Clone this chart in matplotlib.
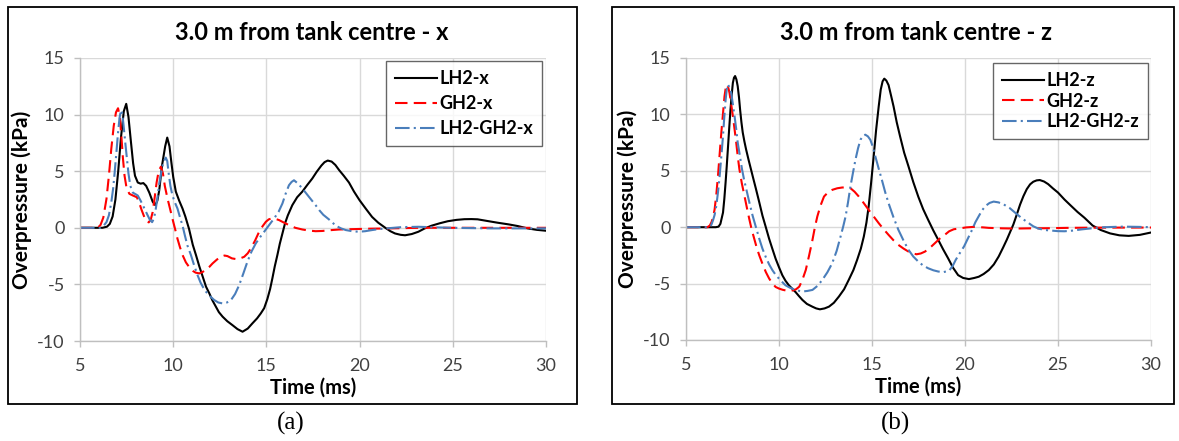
import matplotlib
matplotlib.use("Agg")
import matplotlib.pyplot as plt
from matplotlib.patches import Rectangle

plt.rcParams["axes.unicode_minus"] = False

# ---- data (time in ms, overpressure in kPa) ----
t_lh2_x = [5.0, 6.2, 6.45, 6.6, 6.75, 6.9, 7.05, 7.2, 7.35, 7.48, 7.6, 7.72, 7.85, 7.95, 8.1,
           8.25, 8.4, 8.55, 8.72, 8.9, 9.04, 9.15, 9.25, 9.4, 9.57, 9.68, 9.8, 9.9, 10.0, 10.14,
           10.32, 10.5, 10.65, 10.85, 11.05, 11.22, 11.4, 11.58, 11.76, 11.94, 12.1, 12.29, 12.45,
           12.65, 12.9, 13.18, 13.45, 13.72, 14.0, 14.25, 14.5, 14.7, 14.88, 15.05, 15.2, 15.32,
           15.45, 15.59, 15.72, 15.86, 16.0, 16.15, 16.39, 16.65, 16.93, 17.2, 17.46, 17.7, 17.95,
           18.12, 18.29, 18.5, 18.7, 18.9, 19.15, 19.43, 19.7, 20.0, 20.35, 20.67, 21.0, 21.38,
           21.65, 21.9, 22.2, 22.44, 22.8, 23.15, 23.5, 23.85, 24.3, 24.73, 25.2, 25.62, 26.0,
           26.33, 26.86, 27.4, 28.0, 28.5, 29.0, 29.5, 30.0]
p_lh2_x = [0, 0, 0.1, 0.35, 1.0, 2.5, 5.0, 8.0, 10.3, 10.95, 9.8, 7.8, 5.7, 4.6, 4.0,
           3.9, 3.95, 3.7, 3.1, 2.3, 2.0, 2.4, 3.3, 5.5, 7.2, 7.97, 7.2, 5.8, 4.5, 3.2,
           2.4, 1.7, 1.0, -0.1, -1.5, -2.4, -3.4, -4.3, -5.2, -5.8, -6.4, -6.97, -7.45,
           -7.85, -8.25, -8.6, -8.95, -9.18, -8.9, -8.44, -8.0, -7.56, -7.1, -6.3, -5.4, -4.47,
           -3.4, -2.4, -1.4, -0.5, 0.4, 1.1, 2.0, 2.7, 3.2, 3.8, 4.35, 4.95, 5.5,
           5.8, 5.94, 5.85, 5.55, 5.1, 4.6, 4.0, 3.2, 2.43, 1.65, 0.96, 0.45, 0.0,
           -0.3, -0.5, -0.62, -0.66, -0.55, -0.35, -0.05, 0.18, 0.4, 0.58, 0.7, 0.76, 0.77,
           0.75, 0.6, 0.45, 0.3, 0.15, -0.05, -0.18, -0.26]

t_gh2_x = [5.0, 5.95, 6.1, 6.25, 6.42, 6.55, 6.68, 6.81, 6.93, 7.04, 7.13, 7.22, 7.3, 7.39, 7.5,
           7.65, 7.84, 8.05, 8.18, 8.3, 8.45, 8.58, 8.69, 8.8, 8.9, 9.0, 9.11, 9.22, 9.34, 9.45,
           9.55, 9.7, 9.85, 9.96, 10.1, 10.23, 10.36, 10.5, 10.68, 10.87, 11.05, 11.2, 11.4,
           11.58, 11.76, 11.94, 12.11, 12.35, 12.56, 12.75, 12.91, 13.15, 13.36, 13.6, 13.81,
           14.0, 14.17, 14.4, 14.61, 14.8, 14.97, 15.13, 15.29, 15.5, 15.68, 15.95, 16.21,
           16.55, 16.93, 17.3, 17.64, 18.0, 18.35, 18.9, 19.6, 20.5, 21.4, 22.3, 23.2, 30.0]
p_gh2_x = [0, 0, 0.25, 0.9, 2.55, 4.6, 7.0, 9.0, 10.2, 10.56, 9.9, 8.1, 6.2, 4.6, 3.5,
           3.0, 2.85, 2.7, 2.2, 1.6, 0.95, 0.55, 0.48, 0.75, 1.4, 2.6, 4.0, 5.0, 5.4, 4.8,
           3.7, 2.55, 1.55, 0.8, -0.1, -0.97, -1.7, -2.4, -3.05, -3.5, -3.8, -3.96, -4.03,
           -3.9, -3.7, -3.45, -3.15, -2.8, -2.56, -2.45, -2.5, -2.7, -2.76, -2.7, -2.56,
           -2.25, -1.82, -1.1, -0.35, 0.15, 0.53, 0.75, 0.82, 0.78, 0.68, 0.45, 0.24,
           0.0, -0.15, -0.25, -0.3, -0.28, -0.22, -0.15, -0.12, -0.08, -0.06, -0.03, 0.0, 0.0]

t_mix_x = [5.0, 6.1, 6.25, 6.42, 6.55, 6.68, 6.78, 6.86, 6.95, 7.04, 7.12, 7.2, 7.27, 7.34, 7.43,
           7.52, 7.6, 7.7, 7.84, 8.0, 8.1, 8.25, 8.37, 8.5, 8.63, 8.75, 8.87, 8.96, 9.04, 9.15,
           9.26, 9.37, 9.47, 9.6, 9.68, 9.75, 9.85, 9.96, 10.1, 10.23, 10.36, 10.5, 10.63,
           10.76, 10.95, 11.12, 11.31, 11.47, 11.62, 11.76, 11.98, 12.2, 12.42, 12.65, 12.88,
           13.1, 13.32, 13.54, 13.76, 13.98, 14.2, 14.43, 14.65, 14.88, 15.15, 15.41, 15.65,
           15.86, 16.03, 16.21, 16.35, 16.48, 16.7, 16.93, 17.3, 17.64, 17.84, 18.05, 18.35,
           18.73, 19.0, 19.26, 19.6, 19.96, 20.3, 20.67, 21.0, 21.38, 22.26, 23.15, 24.9, 27.0, 30.0]
p_mix_x = [0, 0, 0.15, 0.5, 1.1, 2.26, 3.5, 4.9, 6.6, 8.4, 9.7, 10.4, 10.1, 9.0, 7.5,
           6.07, 4.8, 3.7, 3.1, 2.95, 2.85, 2.4, 2.0, 1.55, 1.1, 0.7, 0.5, 0.8, 1.4, 2.6,
           4.0, 5.0, 5.8, 6.2, 5.9, 4.9, 3.7, 2.85, 2.2, 1.7, 0.95, 0.2, -0.7,
           -1.55, -2.4, -3.3, -4.2, -4.85, -5.3, -5.65, -6.05, -6.38, -6.6, -6.68, -6.6,
           -6.38, -5.85, -5.06, -4.05, -3.0, -2.1, -1.38, -0.85, -0.35, 0.25, 0.82, 1.4,
           2.15, 3.0, 3.76, 4.05, 4.2, 3.9, 3.47, 2.7, 2.0, 1.55, 1.15, 0.75,
           0.18, -0.05, -0.2, -0.3, -0.35, -0.3, -0.2, -0.12, -0.06, 0.06, 0.09, 0.0, -0.05, -0.05]

t_lh2_z = [5.0, 6.6, 6.75, 6.85, 6.99, 7.06, 7.13, 7.19, 7.25, 7.32, 7.39, 7.46, 7.52, 7.58, 7.64,
           7.71, 7.78, 7.85, 7.91, 7.98, 8.05, 8.14, 8.23, 8.36, 8.49, 8.62, 8.76, 8.94, 9.11,
           9.3, 9.47, 9.65, 9.82, 10.0, 10.18, 10.35, 10.53, 10.71, 10.89, 11.07, 11.26, 11.5,
           11.8, 12.0, 12.2, 12.45, 12.69, 12.95, 13.22, 13.5, 13.75, 14.0, 14.2, 14.4, 14.56,
           14.7, 14.82, 14.95, 15.09, 15.22, 15.36, 15.47, 15.57, 15.66, 15.77, 15.89, 16.02,
           16.16, 16.33, 16.51, 16.73, 16.96, 17.22, 17.49, 17.75, 18.02, 18.3, 18.56, 18.82,
           19.09, 19.36, 19.63, 19.9, 20.21, 20.5, 20.74, 21.0, 21.28, 21.55, 21.81, 22.05,
           22.25, 22.42, 22.6, 22.78, 22.96, 23.14, 23.32, 23.5, 23.67, 23.85, 24.02, 24.25,
           24.47, 24.72, 25.0, 25.35, 25.71, 26.05, 26.42, 26.86, 27.3, 27.8, 28.3, 28.8,
           29.4, 30.0]
p_lh2_z = [0, 0, 0.05, 0.3, 1.3, 2.5, 4.0, 5.4, 6.9, 8.7, 10.4, 11.8, 12.8, 13.25, 13.4,
           13.1, 12.5, 11.5, 10.4, 9.3, 8.4, 7.6, 6.9, 6.0, 5.15, 4.3, 3.4, 2.2, 1.03,
           -0.05, -1.03, -1.95, -2.8, -3.55, -4.26, -4.75, -5.15, -5.45, -5.75, -6.1, -6.45, -6.8,
           -7.05, -7.2, -7.28, -7.2, -7.04, -6.7, -6.15, -5.5, -4.67, -3.8, -2.9, -1.9, -0.83,
           0.4, 1.83, 3.9, 6.27, 8.6, 10.7, 12.2, 12.93, 13.17, 13.0, 12.6, 11.7,
           10.7, 9.3, 8.05, 6.6, 5.4, 4.0, 2.7, 1.6, 0.65, -0.3, -1.12, -1.95,
           -2.75, -3.6, -4.25, -4.5, -4.6, -4.5, -4.39, -4.15, -3.8, -3.3, -2.6, -1.8,
           -1.1, -0.45, 0.24, 1.1, 2.0, 2.75, 3.37, 3.8, 4.03, 4.15, 4.18, 4.05,
           3.82, 3.45, 3.07, 2.45, 1.88, 1.35, 0.84, 0.15, -0.25, -0.55, -0.72, -0.77,
           -0.68, -0.47]

t_gh2_z = [5.0, 6.15, 6.28, 6.37, 6.46, 6.54, 6.63, 6.72, 6.81, 6.9, 6.99, 7.07, 7.14, 7.2, 7.27,
           7.34, 7.43, 7.52, 7.61, 7.7, 7.78, 7.87, 8.0, 8.14, 8.27, 8.4, 8.53, 8.67, 8.8,
           8.94, 9.1, 9.29, 9.47, 9.65, 9.82, 10.0, 10.2, 10.4, 10.6, 10.75, 10.92, 11.09,
           11.25, 11.44, 11.62, 11.8, 11.93, 12.06, 12.24, 12.42, 12.64, 12.86, 13.13, 13.4,
           13.62, 13.84, 14.06, 14.29, 14.55, 14.82, 15.09, 15.36, 15.62, 15.89, 16.15, 16.42,
           16.7, 16.96, 17.18, 17.4, 17.62, 17.85, 18.1, 18.38, 18.65, 18.91, 19.15, 19.4,
           19.68, 20.05, 20.48, 21.0, 21.28, 22.0, 22.7, 23.5, 24.47, 25.5, 27.0, 30.0]
p_gh2_z = [0, 0, 0.15, 0.44, 0.9, 1.6, 2.9, 4.56, 6.5, 8.4, 10.1, 11.6, 12.4, 12.65, 12.4,
           11.9, 10.9, 9.85, 8.7, 7.5, 6.3, 5.15, 3.9, 2.8, 1.75, 0.74, -0.2, -1.03, -1.8,
           -2.5, -3.2, -3.97, -4.55, -5.0, -5.3, -5.44, -5.55, -5.62, -5.65, -5.6, -5.5, -5.27,
           -4.7, -3.79, -2.5, -1.12, 0.0, 0.95, 1.95, 2.72, 3.1, 3.31, 3.45, 3.52,
           3.52, 3.46, 3.15, 2.72, 2.15, 1.54, 0.95, 0.36, -0.17, -0.68, -1.15, -1.57,
           -1.9, -2.16, -2.33, -2.4, -2.33, -2.16, -1.85, -1.42, -1.0, -0.68, -0.36, -0.18,
           -0.12, -0.02, 0.03, -0.02, -0.06, -0.1, -0.12, -0.1, -0.09, -0.06, -0.04, -0.03]

t_mix_z = [5.0, 6.25, 6.36, 6.45, 6.54, 6.63, 6.72, 6.81, 6.9, 6.99, 7.06, 7.13, 7.19, 7.25, 7.34,
           7.43, 7.52, 7.61, 7.7, 7.78, 7.9, 8.01, 8.13, 8.26, 8.42, 8.58, 8.76, 8.94, 9.11,
           9.29, 9.47, 9.65, 9.82, 10.0, 10.18, 10.35, 10.57, 10.8, 11.02, 11.26, 11.53, 11.8,
           12.07, 12.33, 12.6, 12.86, 13.1, 13.31, 13.45, 13.58, 13.71, 13.84, 13.98, 14.11,
           14.25, 14.38, 14.51, 14.64, 14.78, 14.91, 15.05, 15.18, 15.35, 15.53, 15.71, 15.89,
           16.15, 16.42, 16.7, 16.96, 17.22, 17.49, 17.75, 18.02, 18.3, 18.56, 18.85, 19.15,
           19.35, 19.5, 19.72, 19.95, 20.17, 20.39, 20.56, 20.74, 20.92, 21.1, 21.32, 21.54,
           21.8, 22.07, 22.4, 22.7, 23.05, 23.4, 23.67, 23.94, 24.3, 24.65, 25.0, 25.35, 25.8,
           26.24, 26.86, 27.5, 28.5, 29.3, 30.0]
p_mix_z = [0, 0, 0.2, 0.6, 1.1, 1.9, 3.1, 4.56, 6.3, 8.1, 9.8, 11.3, 12.2, 12.65, 12.4,
           11.9, 10.9, 9.85, 8.7, 7.5, 6.3, 5.15, 4.15, 3.24, 2.1, 1.03, 0.0, -1.03, -1.9,
           -2.65, -3.3, -3.82, -4.22, -4.56, -4.87, -5.15, -5.35, -5.5, -5.62, -5.7, -5.65, -5.56,
           -5.2, -4.67, -4.0, -3.2, -2.1, -0.83, 0.05, 0.95, 2.2, 3.6, 4.85, 5.98,
           7.0, 7.75, 8.1, 8.2, 8.05, 7.75, 7.1, 6.27, 5.25, 4.2, 3.1, 2.13,
           0.9, -0.24, -1.2, -2.0, -2.6, -3.05, -3.4, -3.64, -3.82, -3.93, -3.98, -3.85,
           -3.4, -2.9, -2.3, -1.7, -0.95, -0.2, 0.45, 0.98, 1.5, 1.88, 2.15, 2.27,
           2.2, 2.03, 1.7, 1.28, 0.8, 0.39, 0.08, -0.12, -0.25, -0.3, -0.35, -0.36, -0.3,
           -0.2, -0.09, 0.0, 0.05, 0.03, 0.0]

panel_titles = ["3.0 m from tank centre - x", "3.0 m from tank centre - z"]
captions = ["(a)", "(b)"]
labels_x = ["LH2-x", "GH2-x", "LH2-GH2-x"]
labels_z = ["LH2-z", "GH2-z", "LH2-GH2-z"]
x_ticks = [5, 10, 15, 20, 25, 30]
y_ticks = [-10, -5, 0, 5, 10, 15]

W, H = 1179, 441
BLACK = "#000000"
RED = "#FF0000"
BLUE = "#4A7EBB"
FONT = "Lato"


def fx(px):
    return px / W


def fy(py):
    return 1 - py / H


fig = plt.figure(figsize=(W / 100, H / 100), dpi=100)

# outer frames around each panel
for x0, x1 in [(8, 577), (612, 1174)]:
    fig.patches.append(Rectangle((fx(x0), fy(404)), fx(x1 - x0), (404 - 7) / H,
                                 transform=fig.transFigure, fill=False,
                                 edgecolor="black", linewidth=1.3))

panels = [
    (dict(left=80, right=546, top=58, bottom=341), 312, 291,
     [(t_lh2_x, p_lh2_x), (t_gh2_x, p_gh2_x), (t_mix_x, p_mix_x)], labels_x,
     (542, 61), 0.45),
    (dict(left=686, right=1151, top=58, bottom=340), 916, 896,
     [(t_lh2_z, p_lh2_z), (t_gh2_z, p_gh2_z), (t_mix_z, p_mix_z)], labels_z,
     (1148, 63), 0.2),
]

styles = [dict(color=BLACK, linestyle="-", linewidth=1.5),
          dict(color=RED, linestyle=(0, (6, 3)), linewidth=1.5),
          dict(color=BLUE, linestyle=(0, (7, 2, 1, 2)), linewidth=1.5)]

for i, (box, title_x, cap_x, series, labels, leg_corner, spacing) in enumerate(panels):
    ax = fig.add_axes([fx(box["left"]), fy(box["bottom"]),
                       fx(box["right"] - box["left"]), (box["bottom"] - box["top"]) / H])
    for (t, p), lab, st in zip(series, labels, styles):
        ax.plot(t, p, label=lab, **st)
    ax.set_xlim(5, 30)
    ax.set_ylim(-10, 15)
    ax.set_xticks(x_ticks)
    ax.set_yticks(y_ticks)
    ax.grid(True, color="#D9D9D9", linewidth=1.0)
    ax.set_axisbelow(True)
    for side in ["top", "right"]:
        ax.spines[side].set_visible(False)
    for side in ["left", "bottom"]:
        ax.spines[side].set_color("#BFBFBF")
        ax.spines[side].set_linewidth(1.0)
    ax.tick_params(axis="both", colors="#BFBFBF", length=4, width=1.0,
                   labelcolor="#404040", labelsize=13)
    ax.tick_params(axis="x", pad=8)
    ax.tick_params(axis="y", pad=7)
    for lab in ax.get_xticklabels() + ax.get_yticklabels():
        lab.set_fontfamily(FONT)
    ax.set_xlabel("Time (ms)", fontsize=14.5, fontweight="bold", family=FONT, labelpad=3)
    ax.set_ylabel("Overpressure (kPa)", fontsize=15, fontweight="bold", family=FONT, labelpad=4)

    leg = ax.legend(loc="upper right", bbox_to_anchor=(fx(leg_corner[0]), fy(leg_corner[1])),
                    bbox_transform=fig.transFigure, borderaxespad=0, frameon=True,
                    fancybox=False, handlelength=2.3, handletextpad=0.15,
                    labelspacing=spacing, borderpad=0.5,
                    prop=dict(family=FONT, weight="bold", size=13))
    leg.get_frame().set_edgecolor("#404040")
    leg.get_frame().set_linewidth(1.0)

    fig.text(fx(title_x), fy(32), panel_titles[i], ha="center", va="center",
             fontsize=17, fontweight="bold", family=FONT)
    fig.text(fx(cap_x), fy(423), captions[i], ha="center", va="center",
             fontsize=18, family="Liberation Serif")

fig.savefig("out.png", dpi=100)
